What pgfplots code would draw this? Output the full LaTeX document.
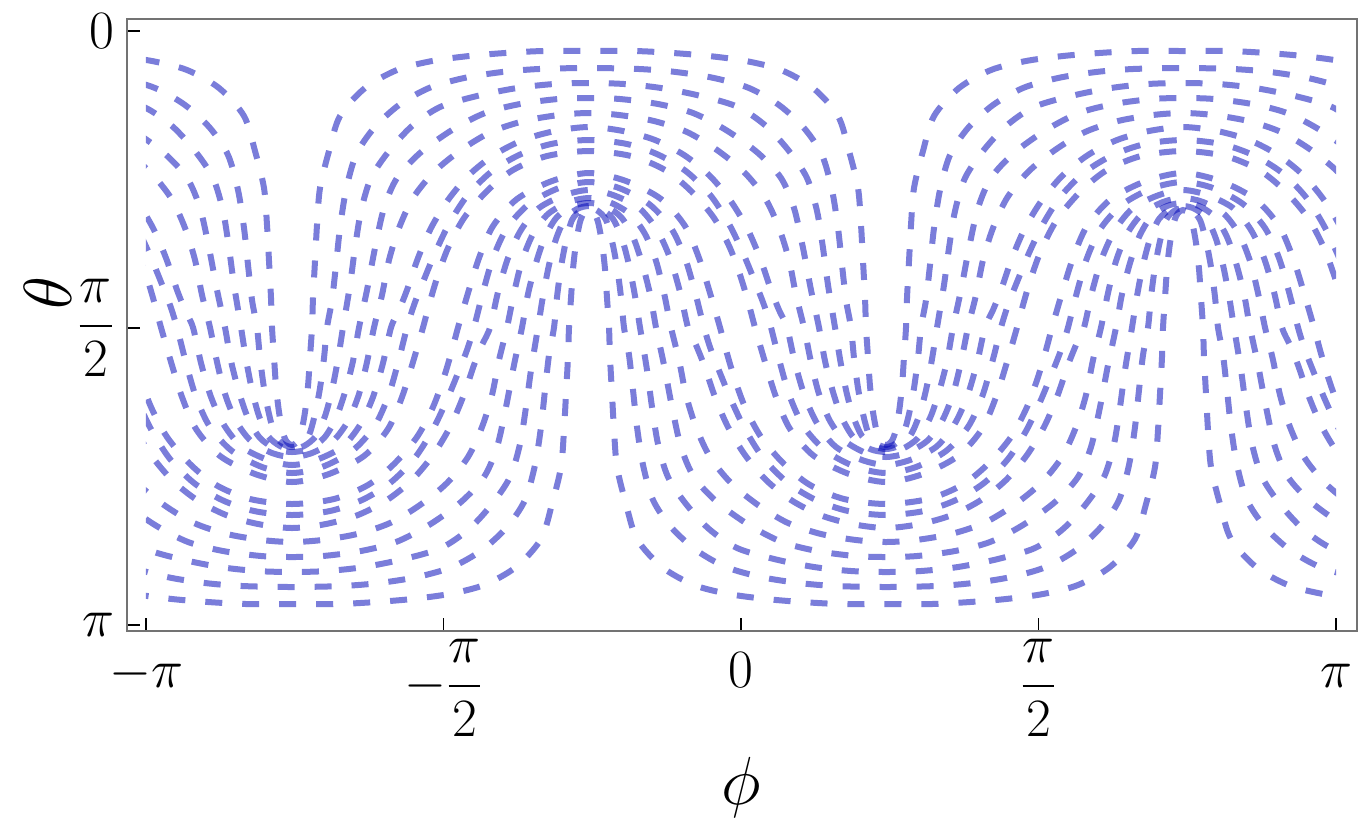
\RequirePackage{fix-cm}
\documentclass[border=0pt]{standalone}
\usepackage{amsmath}
\usepackage{pgfplots}
\usepackage{pgfplotstable}
\pgfplotsset{compat=1.18}
\definecolor{cline}{rgb}{0,0.02,0.72}

% One period of each curve (pixel units of the reference), from the apex over B towards the apex over D.
% f = which symmetric copy of the traced quarter the row belongs to:
% 0: x'=1178-x, y'=y ; 1: x'=x+297, y'=655-y ; 2: x'=1475-x, y'=655-y ; 3: x'=x+594, y'=y
\pgfplotstableread{
x y f
589 51 0
543 51 0
505 53 0
469 56 0
432 61 0
397 70 0
365 88 0
340 116 0
329 151 0
320 188 0
317 225 0
315 261 0
313 298 0
312 327.5 0
571 298 1
573 269 1
576 243 1
580 222 1
584 213 1
589 210 1
584 213 2
580 222 2
576 243 2
573 269 2
571 298 2
569 327.5 2
313 298 3
315 261 3
317 225 3
320 188 3
329 151 3
340 116 3
365 88 3
397 70 3
432 61 3
469 56 3
505 53 3
543 51 3
}\pA
\pgfplotstableread{
x y f
589 68 0
539 69 0
502 72 0
464 78 0
429 88 0
399 105 0
374 128 0
356 155 0
346 190 0
340 228 0
336 265 0
332 300 0
327 327.5 0
557 297 1
561 267 1
566 241 1
572 220 1
580 211 1
589 208 1
580 211 2
572 220 2
566 241 2
561 267 2
557 297 2
554 327.5 2
332 300 3
336 265 3
340 228 3
346 190 3
356 155 3
374 128 3
399 105 3
429 88 3
464 78 3
502 72 3
539 69 3
}\pB
\pgfplotstableread{
x y f
589 83 0
554 84 0
517 88 0
477 96 0
440 107 0
412 126 0
389 151 0
371 178 0
361 211 0
355 248 0
350 285 0
343 327.5 0
543 296 1
549 265 1
556 239 1
565 219 1
577 209 1
589 206 1
577 209 2
565 219 2
556 239 2
549 265 2
543 296 2
538 327.5 2
350 285 3
355 248 3
361 211 3
371 178 3
389 151 3
412 126 3
440 107 3
477 96 3
517 88 3
554 84 3
}\pC
\pgfplotstableread{
x y f
589 98 0
558 99 0
520 104 0
485 113 0
452 130 0
420 153 0
397 178 0
384 208 0
375 248 0
367 290 0
359 327.5 0
528 294 1
536 263 1
545 237 1
557 217 1
573 206 1
589 203 1
573 206 2
557 217 2
545 237 2
536 263 2
528 294 2
522 327.5 2
367 290 3
375 248 3
384 208 3
397 178 3
420 153 3
452 130 3
485 113 3
520 104 3
558 99 3
}\pD
\pgfplotstableread{
x y f
589 113 0
559 115 0
524 121 0
491 132 0
461 150 0
434 172 0
413 198 0
399 228 0
389 260 0
382 295 0
374 327.5 0
514 293 1
522 261 1
533 234 1
548 214 1
569 202 1
589 198 1
569 202 2
548 214 2
533 234 2
522 261 2
514 293 2
507 327.5 2
382 295 3
389 260 3
399 228 3
413 198 3
434 172 3
461 150 3
491 132 3
524 121 3
559 115 3
}\pE
\pgfplotstableread{
x y f
589 127 0
555 131 0
523 140 0
494 155 0
469 175 0
448 200 0
431 228 0
418 258 0
407 290 0
399 310 0
391 327.5 0
498 292 1
508 258 1
521 230 1
539 208 1
565 195 1
589 190 1
565 195 2
539 208 2
521 230 2
508 258 2
498 292 2
490 327.5 2
399 310 3
407 290 3
418 258 3
431 228 3
448 200 3
469 175 3
494 155 3
523 140 3
555 131 3
}\pF
\pgfplotstableread{
x y f
589 140 0
551 144 0
519 155 0
491 172 0
467 196 0
449 224 0
435 253 0
423 282 0
414 305 0
407 327.5 0
483 292 1
493 258 1
507 228 1
529 204 1
559 188 1
589 182 1
559 188 2
529 204 2
507 228 2
493 258 2
483 292 2
474 327.5 2
414 305 3
423 282 3
435 253 3
449 224 3
467 196 3
491 172 3
519 155 3
551 144 3
}\pG
\pgfplotstableread{
x y f
589 151 0
547 156 0
513 170 0
487 191 0
464 218 0
448 248 0
437 278 0
429 305 0
423 327.5 0
468 293 1
479 258 1
493 226 1
517 199 1
552 181 1
589 173 1
552 181 2
517 199 2
493 226 2
479 258 2
468 293 2
458 327.5 2
429 305 3
437 278 3
448 248 3
464 218 3
487 191 3
513 170 3
547 156 3
}\pH
\pgfplotstableread{
x y f
589 173 0
552 181 0
517 199 0
493 226 0
479 258 0
468 293 0
458 327.5 0
429 305 1
437 278 1
448 248 1
464 218 1
487 191 1
513 170 1
547 156 1
589 151 1
547 156 2
513 170 2
487 191 2
464 218 2
448 248 2
437 278 2
429 305 2
423 327.5 2
468 293 3
479 258 3
493 226 3
517 199 3
552 181 3
}\pI
\pgfplotstableread{
x y f
589 182 0
559 188 0
529 204 0
507 228 0
493 258 0
483 292 0
474 327.5 0
414 305 1
423 282 1
435 253 1
449 224 1
467 196 1
491 172 1
519 155 1
551 144 1
589 140 1
551 144 2
519 155 2
491 172 2
467 196 2
449 224 2
435 253 2
423 282 2
414 305 2
407 327.5 2
483 292 3
493 258 3
507 228 3
529 204 3
559 188 3
}\pJ
\pgfplotstableread{
x y f
589 190 0
565 195 0
539 208 0
521 230 0
508 258 0
498 292 0
490 327.5 0
399 310 1
407 290 1
418 258 1
431 228 1
448 200 1
469 175 1
494 155 1
523 140 1
555 131 1
589 127 1
555 131 2
523 140 2
494 155 2
469 175 2
448 200 2
431 228 2
418 258 2
407 290 2
399 310 2
391 327.5 2
498 292 3
508 258 3
521 230 3
539 208 3
565 195 3
}\pK
\pgfplotstableread{
x y f
589 198 0
569 202 0
548 214 0
533 234 0
522 261 0
514 293 0
507 327.5 0
382 295 1
389 260 1
399 228 1
413 198 1
434 172 1
461 150 1
491 132 1
524 121 1
559 115 1
589 113 1
559 115 2
524 121 2
491 132 2
461 150 2
434 172 2
413 198 2
399 228 2
389 260 2
382 295 2
374 327.5 2
514 293 3
522 261 3
533 234 3
548 214 3
569 202 3
}\pL
\pgfplotstableread{
x y f
589 203 0
573 206 0
557 217 0
545 237 0
536 263 0
528 294 0
522 327.5 0
367 290 1
375 248 1
384 208 1
397 178 1
420 153 1
452 130 1
485 113 1
520 104 1
558 99 1
589 98 1
558 99 2
520 104 2
485 113 2
452 130 2
420 153 2
397 178 2
384 208 2
375 248 2
367 290 2
359 327.5 2
528 294 3
536 263 3
545 237 3
557 217 3
573 206 3
}\pM
\pgfplotstableread{
x y f
589 206 0
577 209 0
565 219 0
556 239 0
549 265 0
543 296 0
538 327.5 0
350 285 1
355 248 1
361 211 1
371 178 1
389 151 1
412 126 1
440 107 1
477 96 1
517 88 1
554 84 1
589 83 1
554 84 2
517 88 2
477 96 2
440 107 2
412 126 2
389 151 2
371 178 2
361 211 2
355 248 2
350 285 2
343 327.5 2
543 296 3
549 265 3
556 239 3
565 219 3
577 209 3
}\pN
\pgfplotstableread{
x y f
589 208 0
580 211 0
572 220 0
566 241 0
561 267 0
557 297 0
554 327.5 0
332 300 1
336 265 1
340 228 1
346 190 1
356 155 1
374 128 1
399 105 1
429 88 1
464 78 1
502 72 1
539 69 1
589 68 1
539 69 2
502 72 2
464 78 2
429 88 2
399 105 2
374 128 2
356 155 2
346 190 2
340 228 2
336 265 2
332 300 2
327 327.5 2
557 297 3
561 267 3
566 241 3
572 220 3
580 211 3
}\pO
\pgfplotstableread{
x y f
589 210 0
584 213 0
580 222 0
576 243 0
573 269 0
571 298 0
569 327.5 0
313 298 1
315 261 1
317 225 1
320 188 1
329 151 1
340 116 1
365 88 1
397 70 1
432 61 1
469 56 1
505 53 1
543 51 1
589 51 1
543 51 2
505 53 2
469 56 2
432 61 2
397 70 2
365 88 2
340 116 2
329 151 2
320 188 2
317 225 2
315 261 2
313 298 2
312 327.5 2
571 298 3
573 269 3
576 243 3
580 222 3
584 213 3
}\pP

% three consecutive periods of a curve in one table, so that each curve is one unbroken path
\newcommand{\triple}[2]{\pgfplotstablevertcat{#2}{#1}\pgfplotstablevertcat{#2}{#1}\pgfplotstablevertcat{#2}{#1}}
\triple{\pA}{\cA}\triple{\pB}{\cB}\triple{\pC}{\cC}\triple{\pD}{\cD}
\triple{\pE}{\cE}\triple{\pF}{\cF}\triple{\pG}{\cG}\triple{\pH}{\cH}
\triple{\pI}{\cI}\triple{\pJ}{\cJ}\triple{\pK}{\cK}\triple{\pL}{\cL}
\triple{\pM}{\cM}\triple{\pN}{\cN}\triple{\pO}{\cO}\triple{\pP}{\cP}

\pgfplotsset{curve/.style={smooth, no markers, line width=3pt, color=cline,
  draw opacity=0.52, dash pattern=on 8.5pt off 10pt}}

% #1 = three-period table, #2 = one-period table (for its number of rows)
\newcommand{\drawc}[2]{%
\pgfplotstablegetrowsof{#2}\edef\nrows{\pgfplotsretval}%
\addplot[curve] table[
  x expr={((\thisrow{f}==0 ? 1178-\thisrow{x} : (\thisrow{f}==1 ? \thisrow{x}+297 : (\thisrow{f}==2 ? 1475-\thisrow{x} : \thisrow{x}+594))) + 594*(floor(\coordindex/\nrows)-1) - 741)*0.0052799},
  y expr={(((\thisrow{f}==1 || \thisrow{f}==2) ? 655-\thisrow{y} : \thisrow{y}) - 31)*0.00528886}] {#1};}

\newcommand{\st}{\rule{0pt}{24pt}}

\begin{document}
\begin{tikzpicture}
\useasboundingbox (-63.5pt,-96.5pt) rectangle (618pt,315.5pt);
\begin{axis}[
  at={(0pt,0pt)}, anchor=south west,
  scale only axis, width=615pt, height=306pt,
  xmin=-3.2419, xmax=3.2524, ymin=-0.0635, ymax=3.1733,
  y dir=reverse,
  axis line style={draw=black!55, line width=0.9pt},
  xtick={-3.14159,-1.5708,0,1.5708,3.14159},
  xticklabels={\st$-\pi$,$-\dfrac{\pi}{2}$,\st$0$,$\dfrac{\pi}{2}$,\st$\pi$},
  ytick={0,1.5708,3.14159},
  yticklabels={$0$,$\dfrac{\pi}{2}$,$\pi$},
  tick align=inside, xtick pos=bottom, ytick pos=left,
  major tick length=6.5pt,
  tick style={black, line width=0.75pt},
  tick label style={font=\fontsize{27}{30}\selectfont},
  xticklabel style={inner sep=0pt, yshift=-4pt},
  yticklabel style={xshift=-3pt},
  xlabel={$\phi$}, ylabel={$\theta$},
  label style={font=\fontsize{34}{38}\selectfont},
  xlabel style={at={(rel axis cs:0.4992,-0.255)}, anchor=center},
  ylabel style={at={(rel axis cs:-0.064,0.552)}, anchor=center},
]
\clip (axis cs:-3.1416,-0.5) rectangle (axis cs:3.1416,3.6);
\drawc{\cA}{\pA}\drawc{\cB}{\pB}\drawc{\cC}{\pC}\drawc{\cD}{\pD}
\drawc{\cE}{\pE}\drawc{\cF}{\pF}\drawc{\cG}{\pG}\drawc{\cH}{\pH}
\drawc{\cI}{\pI}\drawc{\cJ}{\pJ}\drawc{\cK}{\pK}\drawc{\cL}{\pL}
\drawc{\cM}{\pM}\drawc{\cN}{\pN}\drawc{\cO}{\pO}\drawc{\cP}{\pP}
\end{axis}
\end{tikzpicture}
\end{document}
